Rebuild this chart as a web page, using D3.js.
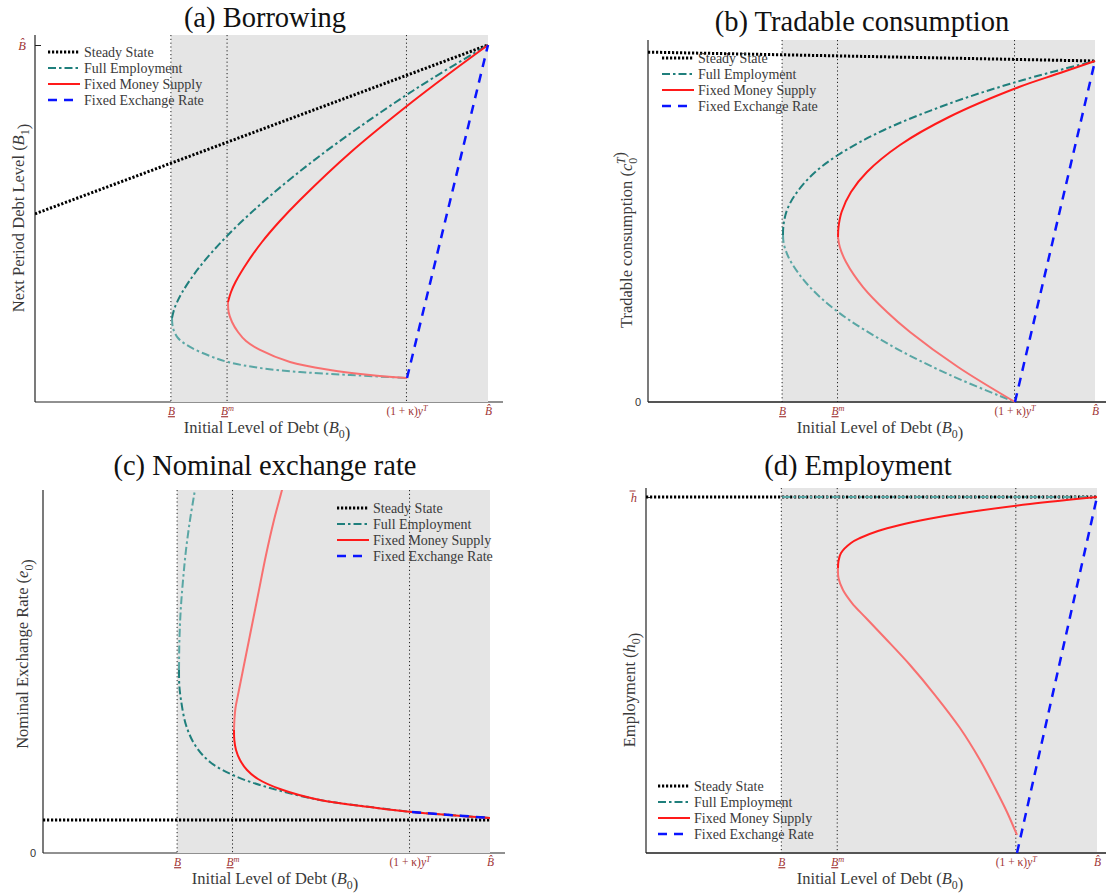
<!DOCTYPE html>
<html><head><meta charset="utf-8">
<script src="https://cdn.jsdelivr.net/npm/d3@7"></script>
<style>body{margin:0;background:#fff} svg{display:block}</style>
</head><body>
<svg id="chart" width="1106" height="893"></svg>
<script>
// ---------- DATA (normalized debt units; x = B0, y = panel variable) ----------
const xTickValues = [0.3, 0.424, 0.82, 1.0];
const legendLabels = ["Steady State", "Full Employment", "Fixed Money Supply", "Fixed Exchange Rate"];
const titles = ["(a) Borrowing", "(b) Tradable consumption", "(c) Nominal exchange rate", "(d) Employment"];

// (a) Borrowing: next period debt B1
const borrowSteady = [[0, 0.527], [1.0, 1.0]];
const borrowFullUpper = [[0.3024, 0.2353], [0.3082, 0.2633], [0.3241, 0.3053], [0.3616, 0.3754], [0.4260, 0.4678], [0.5135, 0.5714], [0.6313, 0.6919], [0.7770, 0.8235], [0.8786, 0.9076], [1.0, 1.0]];
const borrowFullLower = [[0.3024, 0.2353], [0.3046, 0.2073], [0.3157, 0.1793], [0.3422, 0.1541], [0.3863, 0.1289], [0.4260, 0.1120], [0.4967, 0.0952], [0.5850, 0.0840], [0.6954, 0.0756], [0.8212, 0.0672]];
const borrowMoneyUpper = [[0.4260, 0.2801], [0.4327, 0.3081], [0.4426, 0.3361], [0.4693, 0.3922], [0.5011, 0.4482], [0.5386, 0.5042], [0.5850, 0.5658], [0.6976, 0.7003], [0.8322, 0.8403], [0.9161, 0.9216], [1.0, 1.0]];
const borrowMoneyLower = [[0.4260, 0.2801], [0.4274, 0.2521], [0.4349, 0.2241], [0.4481, 0.1961], [0.4658, 0.1709], [0.4967, 0.1457], [0.5629, 0.1120], [0.6512, 0.0896], [0.7395, 0.0756], [0.8212, 0.0672]];
const borrowPeg = [[0.8212, 0.0672], [1.0, 1.0]];

// (b) Tradable consumption c0T
const consSteady = [[0, 1.026], [1.0, 1.0]];
const consFullUpper = [[0.3020, 0.4897], [0.3031, 0.5191], [0.3110, 0.5630], [0.3289, 0.6070], [0.3669, 0.6657], [0.4251, 0.7243], [0.5280, 0.7977], [0.6779, 0.8768], [0.8389, 0.9443], [1.0, 1.0]];
const consFullLower = [[0.3020, 0.4897], [0.3031, 0.4692], [0.3078, 0.4457], [0.3199, 0.4106], [0.3579, 0.3431], [0.4251, 0.2639], [0.5414, 0.1672], [0.6756, 0.0792], [0.8210, 0.0]];
const consMoneyUpper = [[0.4251, 0.4839], [0.4262, 0.5132], [0.4331, 0.5572], [0.4541, 0.6158], [0.4899, 0.6745], [0.5638, 0.7537], [0.6734, 0.8358], [0.8300, 0.9238], [0.9217, 0.9648], [1.0, 1.0]];
const consMoneyLower = [[0.4251, 0.4839], [0.4291, 0.4545], [0.4430, 0.4106], [0.4810, 0.3372], [0.5347, 0.2639], [0.5861, 0.2053], [0.6935, 0.1026], [0.8210, 0.0]];
const consPeg = [[0.8210, 0.0], [1.0, 1.0]];

// (c) Nominal exchange rate e0
const exchSteady = [[0, 1.0], [1.0, 1.0]];
const exchFullUpper = [[0.3043, 5.545], [0.3049, 6.303], [0.3069, 7.061], [0.3096, 7.667], [0.3143, 8.424], [0.3199, 9.182], [0.3289, 10.091], [0.3362, 10.697], [0.3400, 11.0], [0.3463, 11.455]];
const exchFullLower = [[0.3043, 5.545], [0.3049, 5.091], [0.3087, 4.636], [0.3199, 3.879], [0.3400, 3.273], [0.3736, 2.758], [0.4295, 2.333], [0.5078, 1.970], [0.6197, 1.606], [0.7315, 1.394], [0.8255, 1.242], [0.9105, 1.152], [1.0, 1.061]];
const exchMoneyUpper = [[0.4273, 3.727], [0.4282, 4.030], [0.4306, 4.394], [0.4362, 4.788], [0.4474, 5.545], [0.4631, 6.606], [0.4810, 7.818], [0.4989, 9.030], [0.5168, 10.091], [0.5347, 11.0], [0.5436, 11.455]];
const exchMoneyLower = [[0.4273, 3.727], [0.4280, 3.424], [0.4318, 3.121], [0.4407, 2.818], [0.4564, 2.515], [0.4810, 2.242], [0.5302, 1.939], [0.6197, 1.606], [0.7315, 1.394], [0.8255, 1.242], [1.0, 1.061]];
const exchPeg = [[0.8255, 1.242], [1.0, 1.061]];

// (d) Employment h0
const emplSteady = [[0, 1.0], [1.0, 1.0]];
const emplFull = [[0.302, 1.0], [1.0, 1.0]];
const emplMoneyUpper = [[0.4257, 0.8006], [0.4268, 0.8202], [0.4324, 0.8427], [0.4545, 0.8708], [0.4745, 0.8848], [0.5144, 0.9045], [0.5632, 0.9213], [0.6253, 0.9382], [0.7029, 0.9551], [0.8514, 0.9803], [1.0, 1.0]];
const emplMoneyLower = [[0.4257, 0.8006], [0.4268, 0.7725], [0.4368, 0.7388], [0.4568, 0.7022], [0.4878, 0.6601], [0.5299, 0.6039], [0.5854, 0.5281], [0.6408, 0.4438], [0.6962, 0.3511], [0.7406, 0.2612], [0.7738, 0.1826], [0.8004, 0.1152], [0.8226, 0.0506]];
const emplPeg = [[0.8226, 0.0], [1.0, 1.0]];

// ---------- STYLES ----------
const C = {
  steady: "#000", full: "#1f7f7c", fullLight: "#5aa7a5",
  money: "#ff1a1a", moneyLight: "#f87070", peg: "#0a14ff",
  tick: "#a03535", bg: "#e5e5e5", text: "#3a3a3a"
};
const S = {
  steady: {stroke: C.steady, w: 3, dash: "2.2,1.8"},
  full: {stroke: C.full, w: 2, dash: "8,3,2.5,3"},
  fullLight: {stroke: C.fullLight, w: 2, dash: "8,3,2.5,3"},
  money: {stroke: C.money, w: 2},
  moneyLight: {stroke: C.moneyLight, w: 2},
  peg: {stroke: C.peg, w: 2.5, dash: "9,7"}
};

const panels = [
  {title: titles[0], tx: 265, ty: 27, left: 35, xOne: 488, axisEnd: 503, bottom: 402, top: 35, yOne: 45, grayOver: true,
   ylab: [["Next Period Debt Level (", ""], ["B", "i"], ["1", "sub"], [")", ""]], ylx: 24, yly: 218,
   xlx: 267, xly: 433, ytick: {v: 1, parts: [["B\u0302", "i"]], bar: false}, zero: false,
   legend: {x: 48, y: 52},
   series: [
     [borrowSteady, "steady"], [borrowFullLower, "fullLight"], [borrowFullUpper, "full"],
     [borrowMoneyLower, "moneyLight"], [borrowMoneyUpper, "money"], [borrowPeg, "peg"]]},
  {title: titles[1], tx: 862, ty: 31, left: 648, xOne: 1095, axisEnd: 1106, bottom: 402, top: 40, yOne: 61, grayOver: false,
   ylab: [["Tradable consumption (", ""], ["c", "i"], ["0", "subsup", "T"], [")", ""]], ylx: 632, yly: 240,
   xlx: 880, xly: 433, ytick: null, zero: true,
   legend: {x: 662, y: 58},
   series: [
     [consSteady, "steady"], [consFullLower, "fullLight"], [consFullUpper, "full"],
     [consMoneyLower, "moneyLight"], [consMoneyUpper, "money"], [consPeg, "peg"]]},
  {title: titles[2], tx: 265, ty: 475, left: 43, xOne: 490, axisEnd: 505, bottom: 853, top: 490, yOne: 820, grayOver: true,
   ylab: [["Nominal Exchange Rate (", ""], ["e", "i"], ["0", "sub"], [")", ""]], ylx: 28, yly: 654,
   xlx: 275, xly: 884, ytick: null, zero: true,
   legend: {x: 337, y: 508},
   series: [
     [exchSteady, "steady"], [exchFullUpper, "fullLight"], [exchFullLower, "full"],
     [exchMoneyUpper, "moneyLight"], [exchMoneyLower, "money"], [exchPeg, "peg"]]},
  {title: titles[3], tx: 858, ty: 475, left: 646, xOne: 1097, axisEnd: 1106, bottom: 853, top: 488, yOne: 497, grayOver: false,
   ylab: [["Employment (", ""], ["h", "i"], ["0", "sub"], [")", ""]], ylx: 635, yly: 690,
   xlx: 880, xly: 884, ytick: {v: 1, parts: [["h", "i"]], bar: true}, zero: false,
   legend: {x: 658, y: 786},
   series: [
     [emplSteady, "steady"], [emplFull, "fullLight"],
     [emplMoneyLower, "moneyLight"], [emplMoneyUpper, "money"], [emplPeg, "peg"]]}
];

const svg = d3.select("#chart");
const serif = "'Liberation Serif', 'DejaVu Serif', serif";

function rich(textSel, parts, fs) {
  parts.forEach(p => {
    const [t, kind, extra] = p;
    if (kind === "sub") {
      textSel.append("tspan").attr("dy", fs * 0.3).attr("font-size", fs * 0.72).text(t);
      textSel.append("tspan").attr("dy", -fs * 0.3).text("");
    } else if (kind === "sup") {
      textSel.append("tspan").attr("dy", -fs * 0.4).attr("font-size", fs * 0.72).attr("font-style", "italic").text(t);
      textSel.append("tspan").attr("dy", fs * 0.4).text("");
    } else if (kind === "subsup") {
      textSel.append("tspan").attr("dy", fs * 0.3).attr("font-size", fs * 0.72).text(t);
      textSel.append("tspan").attr("dy", -fs * 0.75).attr("dx", -fs * 0.38).attr("font-size", fs * 0.72).attr("font-style", "italic").text(extra);
      textSel.append("tspan").attr("dy", fs * 0.45).text("");
    } else if (kind === "i") {
      textSel.append("tspan").attr("font-style", "italic").text(t);
    } else if (kind === "u") {
      textSel.append("tspan").attr("font-style", "italic").attr("text-decoration", "underline").text(t);
    } else {
      textSel.append("tspan").text(t);
    }
  });
}

const xTickParts = [
  [["B", "u"]],
  [["B", "u"], ["m", "sup"]],
  [["(1 + \u03BA)", ""], ["y", "i"], ["T", "sup"]],
  [["B\u0302", "i"]]
];

panels.forEach((P, pi) => {
  const g = svg.append("g");
  const x = d3.scaleLinear().domain([0, 1]).range([P.left, P.xOne]);
  const y = d3.scaleLinear().domain([0, 1]).range([P.bottom, P.yOne]);
  const clipId = "clip" + pi;
  svg.append("clipPath").attr("id", clipId).append("rect")
    .attr("x", P.left).attr("y", P.top).attr("width", P.axisEnd - P.left).attr("height", P.bottom - P.top + 2);

  // title
  g.append("text").attr("x", P.tx).attr("y", P.ty).attr("text-anchor", "middle")
    .attr("font-family", serif).attr("font-size", 28.5).attr("fill", "#111").text(P.title);

  const drawAxes = () => {
    const ax = d3.axisBottom(x).tickValues(xTickValues).tickSize(0).tickPadding(5).tickFormat(() => "");
    const axG = g.append("g").attr("transform", `translate(0,${P.bottom})`).call(ax);
    axG.select(".domain").remove();
    axG.selectAll(".tick text").each(function(d, i) {
      const t = d3.select(this).attr("fill", C.tick).attr("font-family", serif).attr("font-size", 11.5);
      t.text("");
      rich(t, xTickParts[i], 11.5);
    });
    g.append("line").attr("x1", P.left).attr("x2", P.axisEnd).attr("y1", P.bottom).attr("y2", P.bottom)
      .attr("stroke", P.grayOver ? "#222" : "#555").attr("stroke-width", P.grayOver ? 1 : 2);
    g.append("line").attr("x1", P.left).attr("x2", P.left).attr("y1", P.bottom).attr("y2", P.top)
      .attr("stroke", "#222").attr("stroke-width", 1.2);
  };

  if (P.grayOver) drawAxes();
  g.append("rect").attr("x", x(xTickValues[0])).attr("y", P.top)
    .attr("width", x(xTickValues[3]) - x(xTickValues[0])).attr("height", P.bottom - P.top)
    .attr("fill", C.bg);
  if (!P.grayOver) drawAxes();

  // vertical dotted markers
  g.selectAll(".vline").data(xTickValues.slice(0, 3)).join("line")
    .attr("x1", d => x(d)).attr("x2", d => x(d)).attr("y1", P.top).attr("y2", P.bottom)
    .attr("stroke", "#222").attr("stroke-width", 1).attr("stroke-dasharray", "1.2,2.6");

  // y ticks
  if (P.ytick) {
    const ay = d3.axisLeft(y).tickValues([P.ytick.v]).tickSizeInner(-6).tickSizeOuter(0).tickPadding(9).tickFormat(() => "");
    const ayG = g.append("g").attr("transform", `translate(${P.left},0)`).call(ay);
    ayG.select(".domain").remove();
    ayG.selectAll(".tick line").attr("stroke", "#222");
    ayG.selectAll(".tick text").each(function() {
      const t = d3.select(this).attr("fill", C.tick).attr("font-family", serif).attr("font-size", 12.5);
      rich(t, P.ytick.parts, 12.5);
    });
    if (P.ytick.bar) {
      ayG.selectAll(".tick").append("line").attr("x1", -16.5).attr("x2", -10.5).attr("y1", -6.5).attr("y2", -6.5)
        .attr("stroke", C.tick).attr("stroke-width", 1);
    }
  }
  if (P.zero) {
    const az = d3.axisLeft(y).tickValues([0]).tickSize(0).tickPadding(7).tickFormat(d3.format("d"));
    const azG = g.append("g").attr("transform", `translate(${P.left},0)`).call(az);
    azG.select(".domain").remove();
    azG.selectAll(".tick text").attr("font-family", "'Liberation Sans', Arial, sans-serif").attr("font-size", 11).attr("fill", "#333");
  }

  // axis labels
  const xl = g.append("text").attr("x", P.xlx).attr("y", P.xly).attr("text-anchor", "middle")
    .attr("font-family", serif).attr("font-size", 16.5).attr("fill", C.text);
  rich(xl, [["Initial Level of Debt (", ""], ["B", "i"], ["0", "sub"], [")", ""]], 16.5);
  const yl = g.append("text").attr("transform", `translate(${P.ylx},${P.yly}) rotate(-90)`).attr("text-anchor", "middle")
    .attr("font-family", serif).attr("font-size", 16.5).attr("fill", C.text);
  rich(yl, P.ylab, 16.5);

  // series
  const line = d3.line().x(d => x(d[0])).y(d => y(d[1])).curve(d3.curveCatmullRom.alpha(0.5));
  const cg = g.append("g").attr("clip-path", `url(#${clipId})`);
  P.series.forEach(([data, key]) => {
    const st = S[key];
    cg.append("path").datum(data).attr("d", line).attr("fill", "none")
      .attr("stroke", st.stroke).attr("stroke-width", st.w)
      .attr("stroke-dasharray", st.dash || null).attr("stroke-linejoin", "round");
  });

  // legend
  const lg = g.append("g").attr("transform", `translate(${P.legend.x},${P.legend.y})`);
  const keys = ["steady", "full", "money", "peg"];
  keys.forEach((k, i) => {
    const st = S[k];
    lg.append("line").attr("x1", 0).attr("x2", 32).attr("y1", i * 16).attr("y2", i * 16)
      .attr("stroke", st.stroke).attr("stroke-width", st.w).attr("stroke-dasharray", st.dash || null);
    lg.append("text").attr("x", 36).attr("y", i * 16 + 4.5).attr("font-family", serif).attr("font-size", 14)
      .attr("fill", C.text).text(legendLabels[i]);
  });
});
</script>
</body></html>
